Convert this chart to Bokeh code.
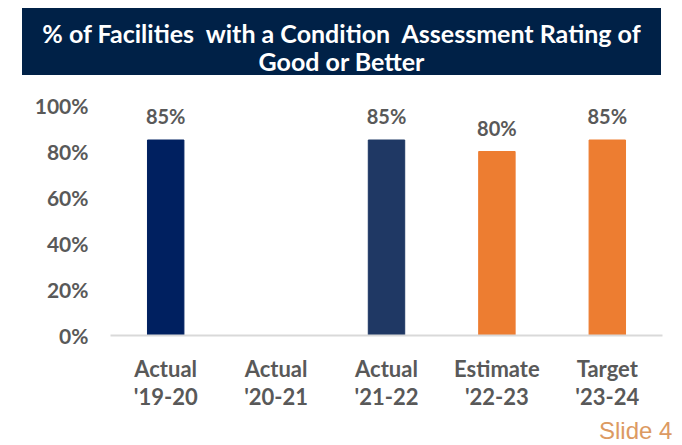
from bokeh.plotting import figure
from bokeh.models import (ColumnDataSource, Range1d, FactorRange, FixedTicker,
                          PrintfTickFormatter, LabelSet, Div)
from bokeh.core.properties import value
from bokeh.layouts import column
from bokeh.embed import file_html
from bokeh.resources import INLINE

# ---- data ----
title_lines = ["% of Facilities  with a Condition  Assessment Rating of", "Good or Better"]
categories = ["Actual\n'19-20", "Actual\n'20-21", "Actual\n'21-22", "Estimate\n'22-23", "Target\n'23-24"]
values = [85, None, 85, 80, 85]
bar_colors = ["#002060", "#002060", "#1f3864", "#ed7d31", "#ed7d31"]
y_ticks = [0, 20, 40, 60, 80, 100]
slide_text = "Slide 4"

# ---- build source (skip missing values) ----
xs, tops, cols, labels = [], [], [], []
for c, v, col in zip(categories, values, bar_colors):
    if v is not None:
        xs.append(c)
        tops.append(v)
        cols.append(col)
        labels.append(f"{v}%")
src = ColumnDataSource(dict(x=xs, top=tops, color=cols, label=labels))

FONT = "Lato"
GRAY = "#595959"

banner = Div(
    text=('<div style="padding-top:11px">' + title_lines[0] + '<br>' + title_lines[1] + '</div>'),
    width=639, height=67, margin=(8, 0, 0, 22),
    styles={"background-color": "#002147", "color": "white", "font-family": FONT,
            "font-weight": "bold", "font-size": "25px", "text-align": "center",
            "line-height": "28px", "white-space": "pre"},
)

p = figure(x_range=FactorRange(*categories), y_range=Range1d(0, 100),
           width=680, height=343, output_backend="svg", toolbar_location=None,
           min_border_left=110, min_border_right=18, min_border_top=30, min_border_bottom=83)
p.outline_line_color = None
p.xgrid.grid_line_color = None
p.ygrid.grid_line_color = None

p.vbar(x="x", top="top", width=0.33, color="color", source=src)

p.add_layout(LabelSet(x="x", y="top", text="label", source=src, y_offset=24,
                      text_align="center", text_baseline="middle",
                      text_font=value(FONT), text_font_style="bold", text_font_size="20px",
                      text_color=GRAY))

p.yaxis.ticker = FixedTicker(ticks=y_ticks)
p.yaxis.formatter = PrintfTickFormatter(format="%d%%")
p.yaxis.axis_line_color = None
p.yaxis.major_tick_line_color = None
p.yaxis.minor_tick_line_color = None
p.yaxis.major_tick_out = 0
p.yaxis.major_label_standoff = 22
p.yaxis.major_label_text_font = FONT
p.yaxis.major_label_text_font_style = "bold"
p.yaxis.major_label_text_font_size = "21px"
p.yaxis.major_label_text_color = GRAY

p.xaxis.axis_line_color = "#d9d9d9"
p.xaxis.axis_line_width = 2
p.xaxis.major_tick_line_color = None
p.xaxis.major_tick_out = 0
p.xaxis.major_label_standoff = 19
p.xaxis.major_label_text_font = FONT
p.xaxis.major_label_text_font_style = "bold"
p.xaxis.major_label_text_font_size = "22px"
p.xaxis.major_label_text_color = GRAY
p.xaxis.major_label_text_line_height = 1.05

footer = Div(
    text=slide_text, width=80, height=26, margin=(0, 0, 0, 599),
    styles={"color": "#dc9a62", "font-family": "Liberation Sans", "font-size": "24px",
            "line-height": "26px", "white-space": "nowrap"},
)

layout = column(banner, p, footer, spacing=0)
open("out.html", "w").write(file_html(layout, INLINE))
